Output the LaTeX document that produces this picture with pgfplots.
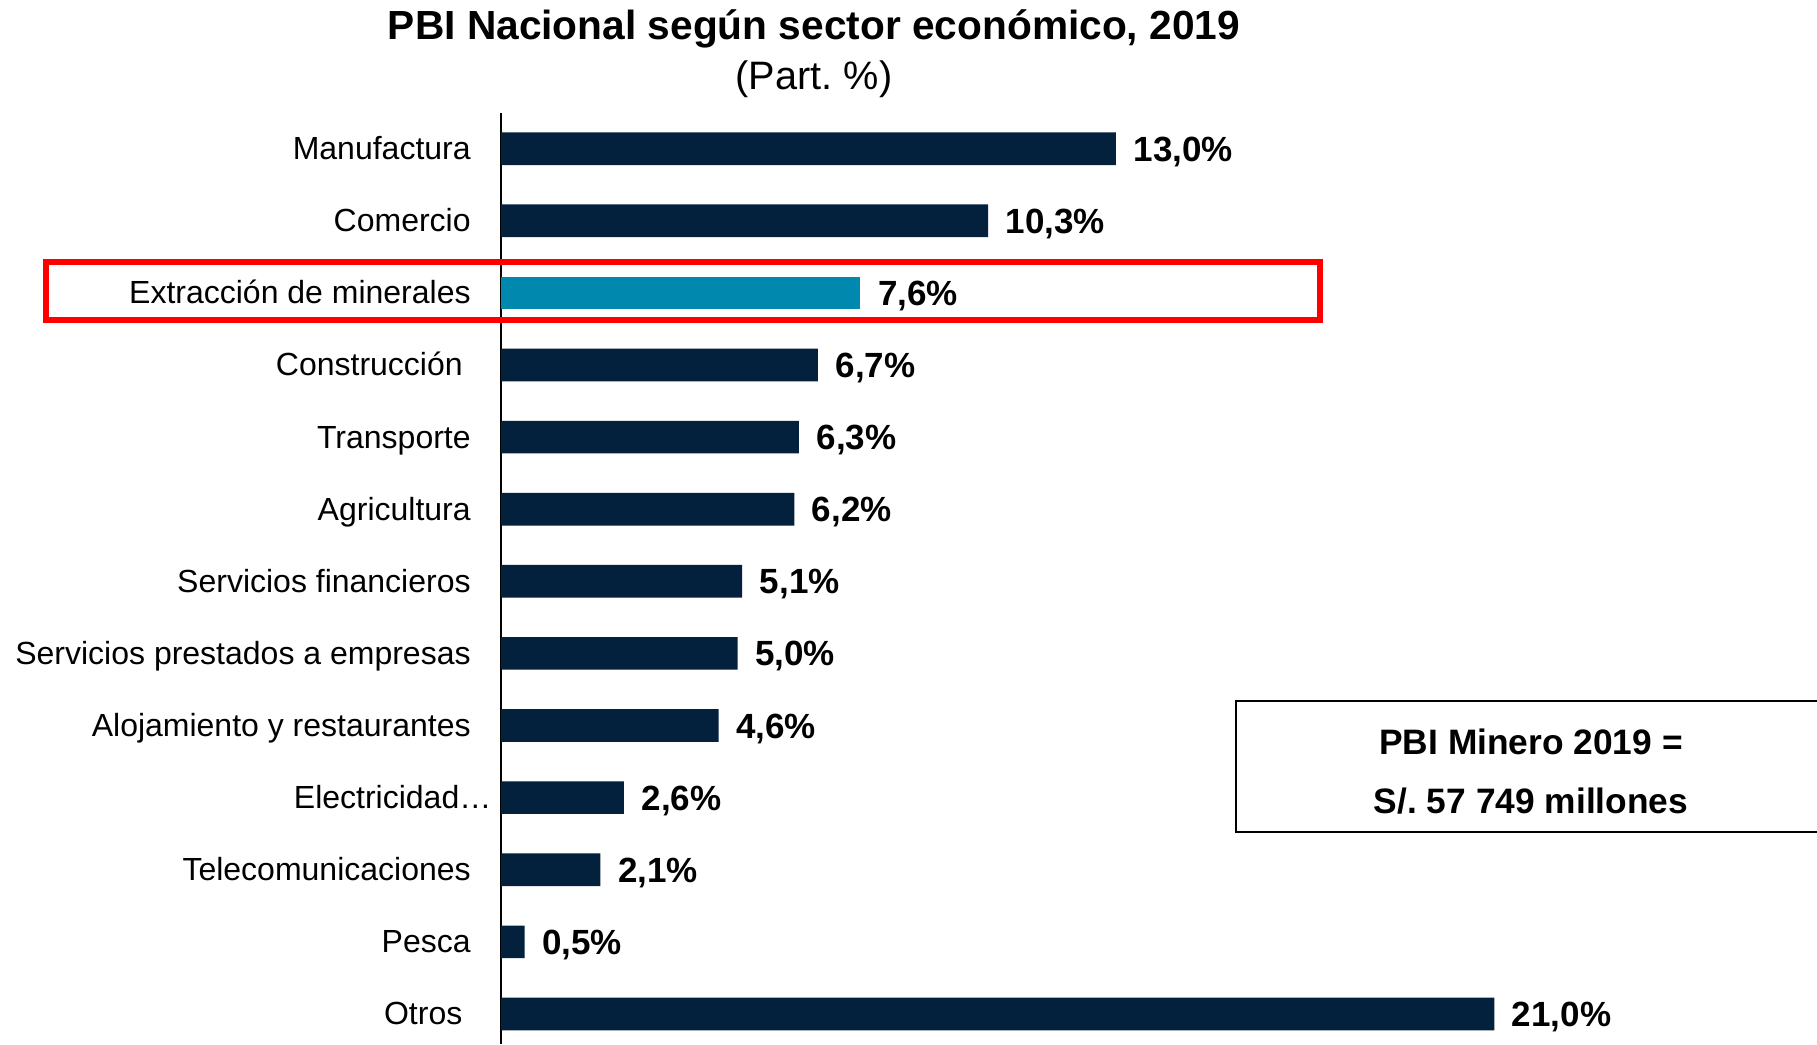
\documentclass[border=0pt]{standalone}
\usepackage{fontspec}
\setmainfont{Liberation Sans}
\usepackage{pgfplots}
\pgfplotsset{compat=1.18}
\definecolor{Navy}{HTML}{03203D}
\definecolor{Teal}{HTML}{0088AF}
\definecolor{BoxRed}{HTML}{FF0000}
\frenchspacing

\begin{document}
\begin{tikzpicture}
\begin{axis}[
  at={(150.3pt,0pt)}, anchor=south west,
  scale only axis, width=354.75pt, height=279.3pt,
  xmin=0, xmax=25, ymin=-0.417, ymax=12.495,
  axis x line=none,
  axis y line*=left,
  y axis line style={line width=0.6pt,color=black},
  ytick={0,...,12},
  yticklabels={Otros\hspace*{2.5pt}, Pesca, Telecomunicaciones, Electricidad…\hspace*{-6.2pt},
    Alojamiento y restaurantes, Servicios prestados a empresas, Servicios financieros,
    Agricultura, Transporte, Construcción\hspace*{2.4pt}, Extracción de minerales,
    Comercio, Manufactura},
  major tick length=0pt,
  yticklabel style={font=\fontsize{9.6}{11}\selectfont, anchor=base east,
    inner sep=0pt, xshift=-8.9pt, yshift=-3.3pt},
  xbar, bar width=9.8pt, bar shift=0pt,
  point meta=x,
  nodes near coords={\pgfmathprintnumber[fixed,fixed zerofill,precision=1,use comma,assume math mode=true]{\pgfplotspointmeta}\%},
  nodes near coords style={font=\fontsize{10.5}{12}\selectfont\bfseries,
    anchor=base west, inner sep=0pt, xshift=5.1pt, yshift=-3.75pt, color=black},
  clip=false,
]
% sectors, dark bars
\addplot[fill=Navy, draw=none] coordinates {
  (21.0,0) (0.5,1) (2.1,2) (2.6,3) (4.6,4) (5.0,5) (5.1,6)
  (6.2,7) (6.3,8) (6.7,9) (10.3,11) (13.0,12)
};
% mining, highlighted
\addplot[fill=Teal, draw=none] coordinates {(7.6,10)};
\end{axis}

\begin{scope}[shift={(0pt,313.2pt)}, x=0.3pt, y=-0.3pt]
  \draw[BoxRed, line width=1.8pt] (46,262.5) rectangle (1320,320.3);
  \draw[black, line width=0.5pt] (1236,700.7) rectangle (1826,831.7);
  \node[anchor=base, inner sep=0pt, font=\fontsize{10.6}{12}\selectfont\bfseries]
    at (1531,754) {PBI Minero 2019 =};
  \node[anchor=base, inner sep=0pt, font=\fontsize{10.6}{12}\selectfont\bfseries]
    at (1531,813) {S/. 57 749 millones};
  \node[anchor=base, inner sep=0pt, font=\fontsize{12.2}{14}\selectfont\bfseries]
    at (814,40) {PBI Nacional según sector económico, 2019};
  \node[anchor=base, inner sep=0pt, font=\fontsize{11.9}{14}\selectfont]
    at (814,90) {(Part. \%)};
\end{scope}
\pgfresetboundingbox
\path (0,0) rectangle (545.1pt,313.2pt);
\end{tikzpicture}
\end{document}
